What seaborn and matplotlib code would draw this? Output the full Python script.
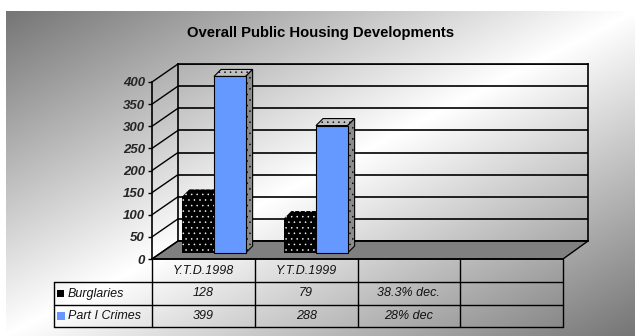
import numpy as np
import pandas as pd
import matplotlib
matplotlib.use("Agg")
import matplotlib.pyplot as plt
import seaborn as sns
from matplotlib.patches import Polygon, Rectangle

# ---------------- data ----------------
title = "Overall Public Housing Developments"
periods = ["Y.T.D.1998", "Y.T.D.1999"]
table_columns = ["Y.T.D.1998", "Y.T.D.1999", "", ""]
series_names = ["Burglaries", "Part I Crimes"]
burglaries = [128, 79]
part1_crimes = [399, 288]
burglaries_row = ["128", "79", "38.3% dec.", ""]
part1_row = ["399", "288", "28% dec", ""]
y_ticks = [0, 50, 100, 150, 200, 250, 300, 350, 400]
series_colors = ["#000000", "#6699FF"]

# ---------------- style ----------------
sns.set_theme(style="white")
plt.rcParams["font.family"] = ["Liberation Sans", "DejaVu Sans"]
plt.rcParams["hatch.linewidth"] = 0.35

W, H = 640, 336
fig = plt.figure(figsize=(W / 100, H / 100), dpi=100, facecolor="white")


def px_axes(x0, x1, y_base, y_top, z):
    return fig.add_axes([x0 / W, (H - y_base) / H, (x1 - x0) / W, (y_base - y_top) / H], zorder=z)


# background gradient
bg = fig.add_axes([0, 0, 1, 1], zorder=0)
bg.set_xlim(0, W)
bg.set_ylim(H, 0)
bg.axis("off")
gx, gy = np.meshgrid(np.linspace(0, 1, 400), np.linspace(0, 1, 300))
u = (gx + gy) / 2
shade = 1 - 0.54 * np.abs(2 * u - 1)
bg.imshow(shade, cmap="gray", vmin=0, vmax=1, extent=[6, 635, 336, 11],
          aspect="auto", interpolation="bilinear", origin="upper")

# overlay in pixel coordinates
ov = fig.add_axes([0, 0, 1, 1], zorder=1)
ov.set_xlim(0, W)
ov.set_ylim(H, 0)
ov.set_facecolor("none")
ov.axis("off")

# back wall
ax_back = px_axes(178, 588, 241, 64, 2)
ax_back.set_facecolor("none")
ax_back.set_xlim(-0.5, 3.5)
ax_back.set_ylim(0, 400)
ax_back.set_yticks(y_ticks)
ax_back.set_xticks([])
ax_back.tick_params(left=False, labelleft=False, bottom=False, labelbottom=False)
ax_back.grid(axis="y", color="black", lw=1.2)
for s in ax_back.spines.values():
    s.set_visible(True)
    s.set_color("black")
    s.set_linewidth(1.2)

# front axis plane
ax_front = px_axes(152, 563, 259, 82, 2)
ax_front.set_facecolor("none")
ax_front.set_xlim(-0.5, 3.5)
ax_front.set_ylim(0, 400)
ax_front.set_yticks(y_ticks)
ax_front.set_yticklabels([str(t) for t in y_ticks], fontsize=9.5, fontweight="bold", fontstyle="italic")
ax_front.set_xticks([])
ax_front.tick_params(axis="y", left=True, direction="out", length=3, width=1, color="black", pad=2)
for k, s in ax_front.spines.items():
    s.set_visible(k in ("left", "bottom"))
    s.set_color("black")
    s.set_linewidth(1.2)


def to_ov(ax, x, y):
    d = ax.transData.transform((x, y))
    return ov.transData.inverted().transform(d)


# floor
floor = [to_ov(ax_front, -0.5, 0), to_ov(ax_front, 3.5, 0),
         to_ov(ax_back, 3.5, 0), to_ov(ax_back, -0.5, 0)]
ov.add_patch(Polygon(floor, closed=True, facecolor="#808080", edgecolor="black", lw=1))

# side wall diagonals
for v in y_ticks:
    a = to_ov(ax_front, -0.5, v)
    b = to_ov(ax_back, -0.5, v)
    ov.plot([a[0], b[0]], [a[1], b[1]], color="black", lw=1)

# bars
ax_bar = px_axes(163, 571, 253, 76, 3)
df = pd.DataFrame({
    "period": periods * 2,
    "series": [series_names[0]] * len(periods) + [series_names[1]] * len(periods),
    "value": burglaries + part1_crimes,
})
sns.barplot(data=df, x="period", y="value", hue="series", order=periods,
            hue_order=series_names, palette=series_colors, width=0.62,
            saturation=1, legend=False, errorbar=None, ax=ax_bar)
ax_bar.set_xlim(-0.5, 3.5)
ax_bar.set_ylim(0, 400)
ax_bar.set_facecolor("none")
ax_bar.axis("off")

inv = ax_bar.transData.inverted()
depth = np.array([7.0, 7.0])
face_styles = {
    series_names[0]: dict(front=("#000000", "white", 0.0), top=("#000000", "white"), side=("#000000", "white")),
    series_names[1]: dict(front=("#6699FF", "black", 0.8), top=("#c0c0c0", "black"), side=("#8c8c8c", "black")),
}
for container, name in zip(ax_bar.containers, series_names):
    st = face_styles[name]
    for bar in container:
        x0, y0 = bar.get_x(), bar.get_y()
        w, h = bar.get_width(), bar.get_height()
        ftl = ax_bar.transData.transform((x0, y0 + h))
        ftr = ax_bar.transData.transform((x0 + w, y0 + h))
        fbr = ax_bar.transData.transform((x0 + w, y0))
        top = [ftl, ftr, ftr + depth, ftl + depth]
        side = [ftr, fbr, fbr + depth, ftr + depth]
        for pts, key in ((top, "top"), (side, "side")):
            fc, ec = st[key]
            ax_bar.add_patch(Polygon(inv.transform(np.array(pts)), closed=True, facecolor=fc,
                                     edgecolor=ec, lw=0.8 if ec == "black" else 0,
                                     hatch="...", zorder=1, clip_on=False))
        fc, ec, lw = st["front"]
        bar.set_facecolor(fc)
        bar.set_edgecolor(ec)
        bar.set_linewidth(lw)
        bar.set_zorder(2)
        bar.set_clip_on(False)
        if name == series_names[0]:
            bar.set_hatch("...")

# title
ov.text(321, 37, title, ha="center", va="baseline", fontsize=10.7, fontweight="bold", color="black")

# data table
col_edges = [to_ov(ax_front, e, 0)[0] for e in np.arange(-0.5, 4.0, 1.0)]
y_top = to_ov(ax_front, -0.5, 0)[1]
row_lines = [y_top + 23, y_top + 46, y_top + 68]
label_left = 54
for y in row_lines:
    ov.plot([label_left, col_edges[-1]], [y, y], color="black", lw=1)
ov.plot([label_left, label_left], [row_lines[0], row_lines[-1]], color="black", lw=1)
for x in col_edges:
    ov.plot([x, x], [y_top, row_lines[-1]], color="black", lw=1)

row_centers = [(y_top + row_lines[0]) / 2, (row_lines[0] + row_lines[1]) / 2, (row_lines[1] + row_lines[2]) / 2]
txt = dict(fontsize=9, fontstyle="italic", color="#111111", va="center")
for i, lab in enumerate(table_columns):
    cx = (col_edges[i] + col_edges[i + 1]) / 2
    ov.text(cx, row_centers[0], lab, ha="center", **txt)
    ov.text(cx, row_centers[1], burglaries_row[i], ha="center", **txt)
    ov.text(cx, row_centers[2], part1_row[i], ha="center", **txt)

ov.add_patch(Rectangle((57, row_centers[1] - 3.5), 6.5, 6.5, facecolor=series_colors[0], edgecolor="none"))
ov.add_patch(Rectangle((57, row_centers[2] - 4), 8, 8, facecolor=series_colors[1], edgecolor="none"))
ov.text(68, row_centers[1], series_names[0], ha="left", **txt)
ov.text(68, row_centers[2], series_names[1], ha="left", **txt)

fig.savefig("out.png", dpi=100, facecolor="white")
